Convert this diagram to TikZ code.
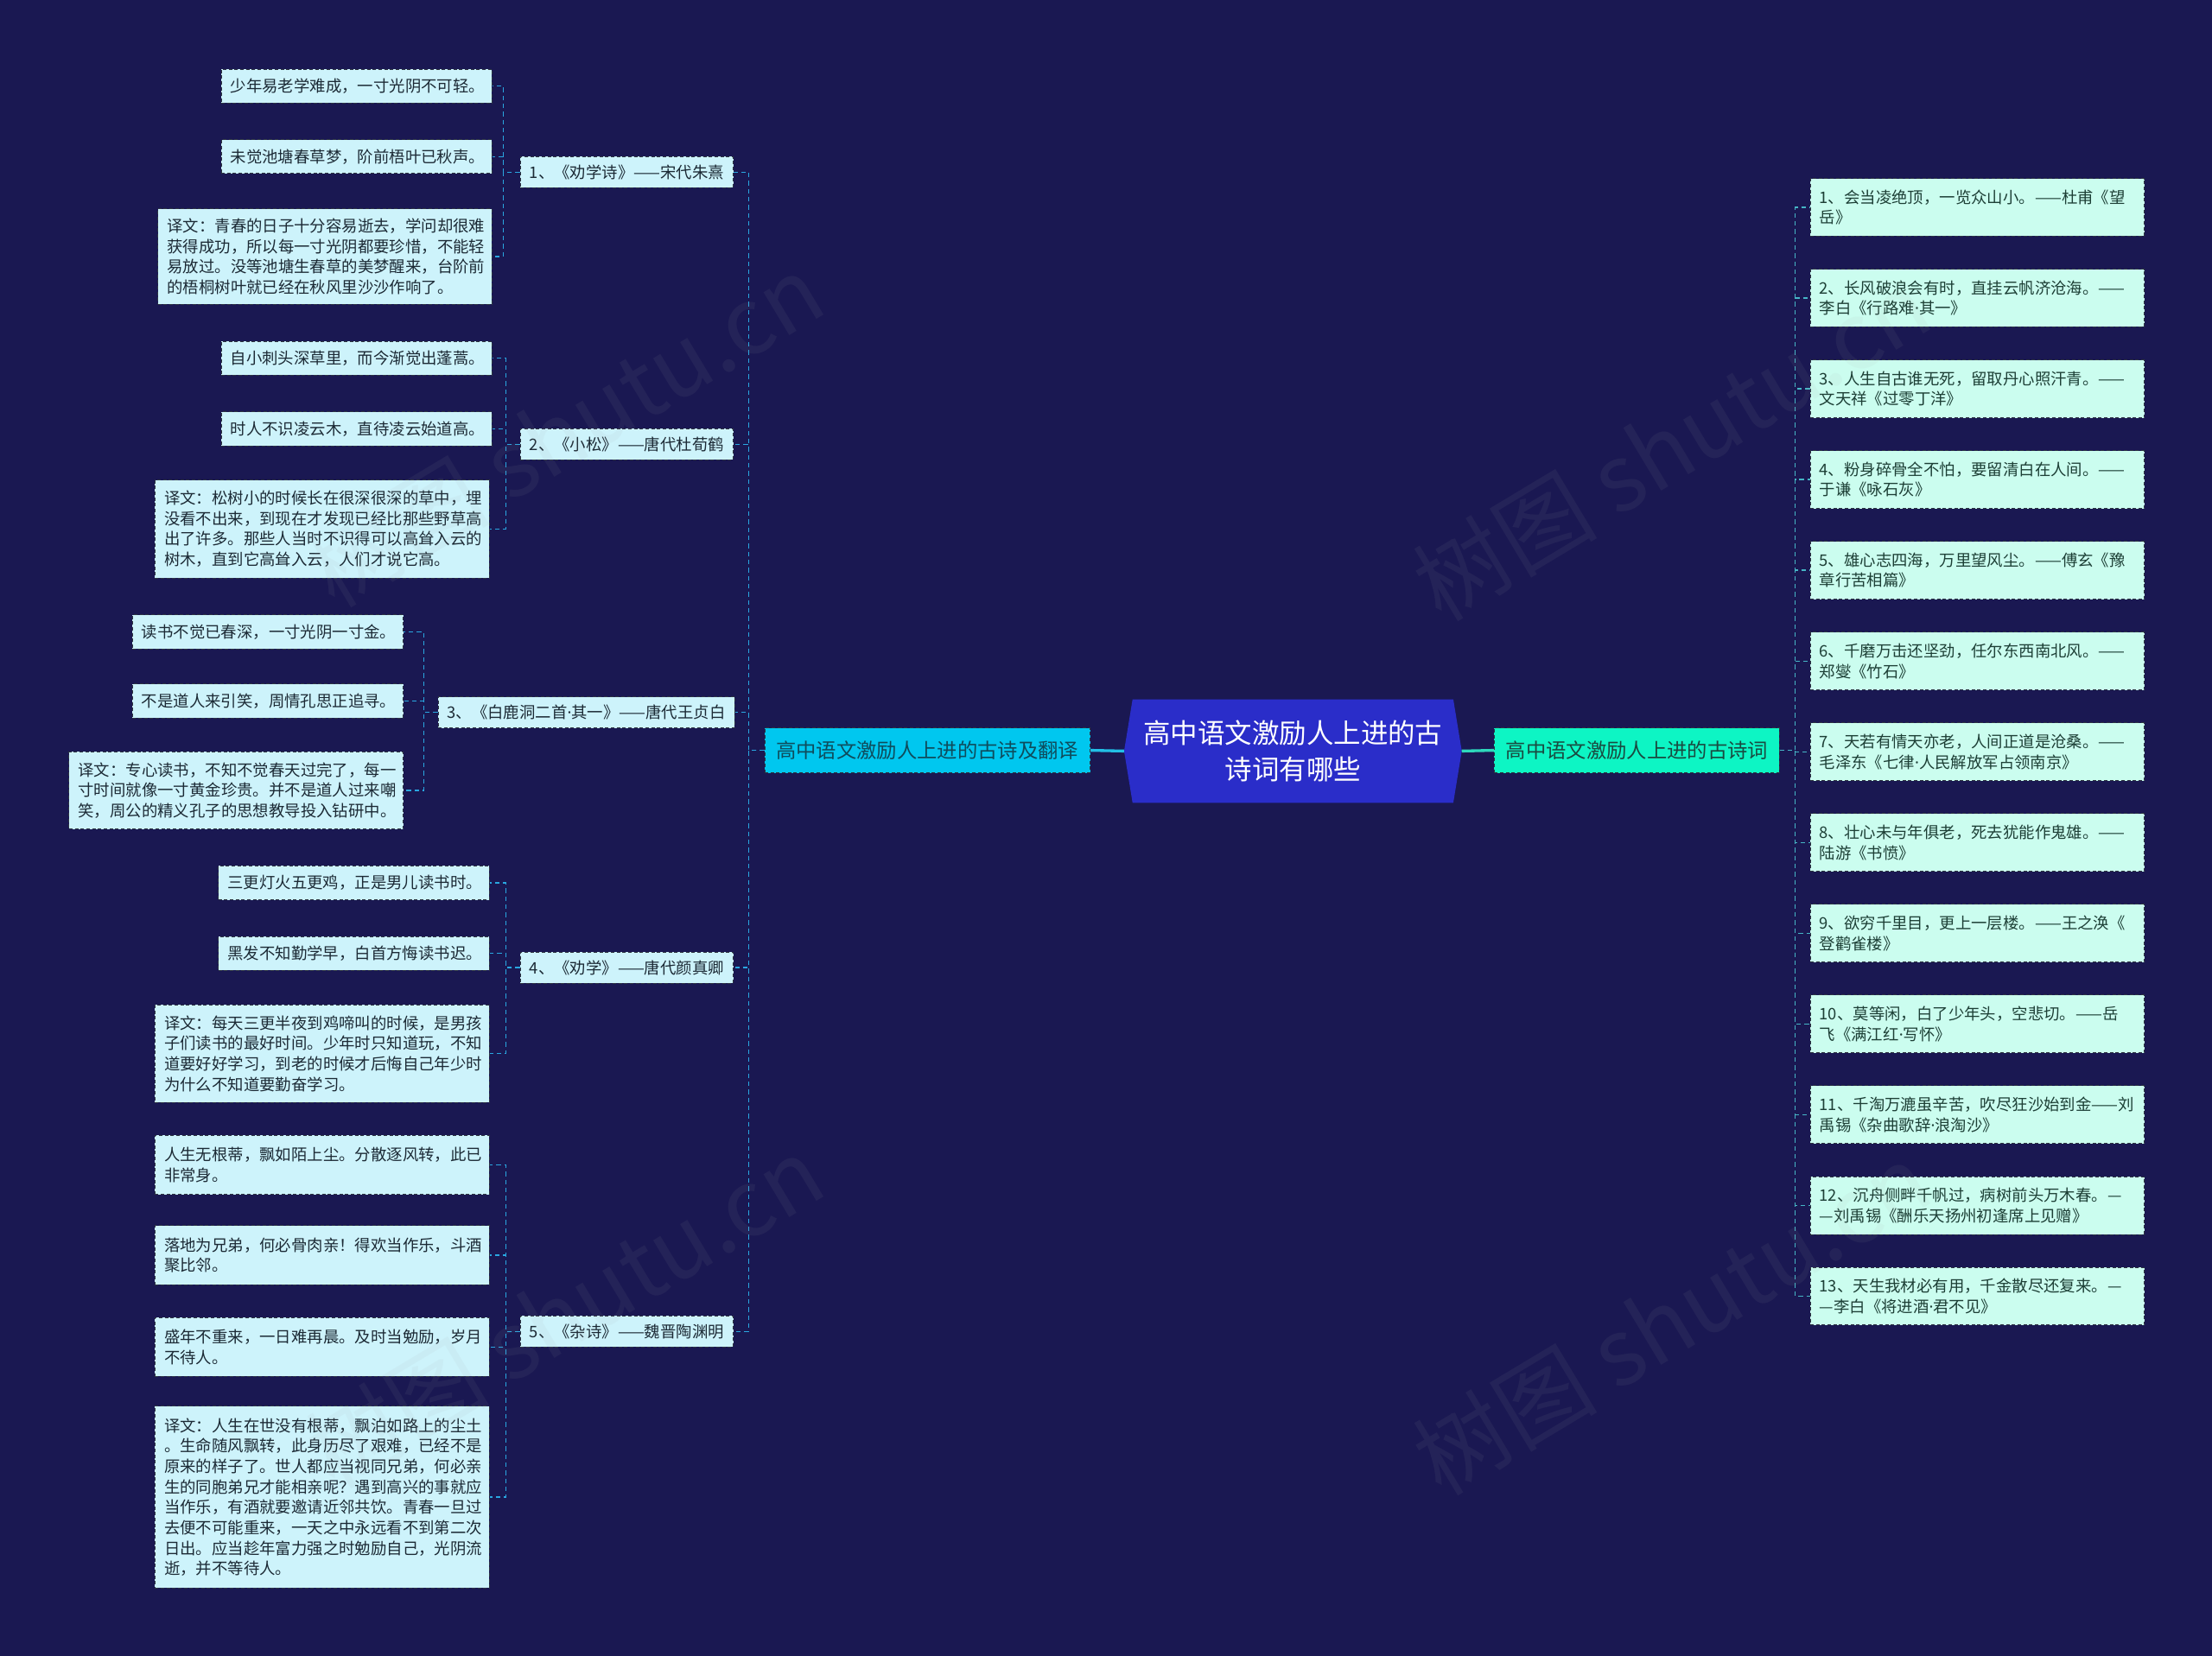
\documentclass[tikz,border=0pt]{standalone}
\usepackage{fontspec}
\newfontfamily\cjk{Noto Sans CJK SC}
\newfontfamily\latinf{Noto Sans}
\newcommand{\md}{{\latinf ·}}
\usetikzlibrary{calc}
\definecolor{bgc}{HTML}{1A1852}
\definecolor{lcyan}{HTML}{CDF3FB}
\definecolor{mleaf}{HTML}{CBFDEF}
\definecolor{lmain}{HTML}{00C7EF}
\definecolor{rmain}{HTML}{0DF5C4}
\definecolor{cfill}{HTML}{2A2DC9}
\definecolor{lline}{HTML}{2AA7E1}
\definecolor{rline}{HTML}{46B6C6}
\definecolor{cll}{HTML}{22BFE6}
\definecolor{crl}{HTML}{2ED8BC}
\definecolor{bordc}{HTML}{2D3540}
\definecolor{ltext}{HTML}{1C2A35}
\definecolor{rtext}{HTML}{1D3F36}
\definecolor{lmtext}{HTML}{0F4C5C}
\definecolor{rmtext}{HTML}{1A4A40}
\pgfdeclarelayer{back}
\pgfsetlayers{back,main}
\begin{document}
\begin{tikzpicture}[x=1.2245pt,y=-1.2245pt,
  bx/.style={draw=bordc, line width=0.6pt, dash pattern=on 3pt off 2pt, inner xsep=8pt, inner ysep=0pt, align=left, font=\cjk\fontsize{13.8}{17.75}\selectfont},
  lleaf/.style={bx, fill=lcyan, text=ltext, anchor=east, minimum height=29.4pt, text width=219pt},
  ltrans/.style={bx, fill=lcyan, text=ltext, anchor=east, text width=274pt},
  poem/.style={bx, fill=lcyan, text=ltext, anchor=east, minimum height=27pt},
  rleaf/.style={bx, fill=mleaf, text=rtext, anchor=west, minimum height=50.2pt, text width=274pt},
  mainbox/.style={draw=bordc, line width=0.6pt, dash pattern=on 3pt off 2pt, inner xsep=10pt, inner ysep=0pt, minimum height=39pt, font=\cjk\fontsize{17.5}{21}\selectfont},
  lconn/.style={draw=lline, line width=1pt, dash pattern=on 4pt off 3pt},
  rconn/.style={draw=rline, line width=1pt, dash pattern=on 4pt off 3pt},
  wm/.style={text=gray!70, opacity=0.08, font=\cjk\fontsize{80}{80}\selectfont, rotate=31}
]
\begin{pgfonlayer}{back}
\fill[bgc] (0,0) rectangle (1568,1174);
\end{pgfonlayer}
\useasboundingbox (0,0) rectangle (1568,1174);

% center
\node[minimum width=278pt, minimum height=89.4pt, inner sep=0pt, align=center, text=white,
  font=\cjk\fontsize{23.6}{31.8}\selectfont] (c) at (916.5,532.5) {高中语文激励人上进的古\\诗词有哪些};
\coordinate (cw) at ($(c.west)+(-6,0)$);
\coordinate (ce) at ($(c.east)+(6,0)$);
\begin{pgfonlayer}{back}
\fill[cfill] (c.north west) -- (c.north east) -- (ce) -- (c.south east) -- (c.south west) -- (cw) -- cycle;
\end{pgfonlayer}

% main branches
\node[mainbox, fill=lmain, text=lmtext, anchor=east] (L) at (773,532) {高中语文激励人上进的古诗及翻译};
\node[mainbox, fill=rmain, text=rmtext, anchor=west] (R) at (1059,532) {高中语文激励人上进的古诗词};
\draw[cll, line width=2.5pt] (cw) -- (L.east);
\draw[crl, line width=2.5pt] (ce) -- (R.west);

% poems (left)
\node[poem] (p1) at (520,122) {1、《劝学诗》——宋代朱熹};
\node[poem] (p2) at (520,315) {2、《小松》——唐代杜荀鹤};
\node[poem] (p3) at (521,505) {3、《白鹿洞二首\md 其一》——唐代王贞白};
\node[poem] (p4) at (520,686) {4、《劝学》——唐代颜真卿};
\node[poem] (p5) at (520,944) {5、《杂诗》——魏晋陶渊明};
\foreach \p in {p1,p2,p3,p4,p5}{\draw[lconn] (L.west) -- ++(-11,0) |- (\p.east);}

% poem 1 leaves
\node[lleaf] (a1) at (349,61) {少年易老学难成，一寸光阴不可轻。};
\node[lleaf] (a2) at (349,111) {未觉池塘春草梦，阶前梧叶已秋声。};
\node[ltrans, minimum height=83pt] (a3) at (349,182) {译文：青春的日子十分容易逝去，学问却很难\\获得成功，所以每一寸光阴都要珍惜，不能轻\\易放过。没等池塘生春草的美梦醒来，台阶前\\的梧桐树叶就已经在秋风里沙沙作响了。};
\foreach \q in {a1,a2,a3}{\draw[lconn] (p1.west) -- ++(-12,0) |- (\q.east);}

% poem 2 leaves
\node[lleaf] (b1) at (349,254) {自小刺头深草里，而今渐觉出蓬蒿。};
\node[lleaf] (b2) at (349,304) {时人不识凌云木，直待凌云始道高。};
\node[ltrans, minimum height=85pt] (b3) at (347,375) {译文：松树小的时候长在很深很深的草中，埋\\没看不出来，到现在才发现已经比那些野草高\\出了许多。那些人当时不识得可以高耸入云的\\树木，直到它高耸入云，人们才说它高。};
\foreach \q in {b1,b2,b3}{\draw[lconn] (p2.west) -- ++(-10,0) |- (\q.east);}

% poem 3 leaves
\node[lleaf] (d1) at (286,448) {读书不觉已春深，一寸光阴一寸金。};
\node[lleaf] (d2) at (286,497) {不是道人来引笑，周情孔思正追寻。};
\node[ltrans, minimum height=67pt] (d3) at (286,560.5) {译文：专心读书，不知不觉春天过完了，每一\\寸时间就像一寸黄金珍贵。并不是道人过来嘲\\笑，周公的精义孔子的思想教导投入钻研中。};
\foreach \q in {d1,d2,d3}{\draw[lconn] (p3.west) -- ++(-10,0) |- (\q.east);}

% poem 4 leaves
\node[lleaf] (e1) at (347,626) {三更灯火五更鸡，正是男儿读书时。};
\node[lleaf] (e2) at (347,676) {黑发不知勤学早，白首方悔读书迟。};
\node[ltrans, minimum height=85pt] (e3) at (347,747) {译文：每天三更半夜到鸡啼叫的时候，是男孩\\子们读书的最好时间。少年时只知道玩，不知\\道要好好学习，到老的时候才后悔自己年少时\\为什么不知道要勤奋学习。};
\foreach \q in {e1,e2,e3}{\draw[lconn] (p4.west) -- ++(-10,0) |- (\q.east);}

% poem 5 leaves
\node[ltrans, minimum height=51.4pt] (f1) at (347,826) {人生无根蒂，飘如陌上尘。分散逐风转，此已\\非常身。};
\node[ltrans, minimum height=51.4pt] (f2) at (347,890) {落地为兄弟，何必骨肉亲！得欢当作乐，斗酒\\聚比邻。};
\node[ltrans, minimum height=51.4pt] (f3) at (347,955) {盛年不重来，一日难再晨。及时当勉励，岁月\\不待人。};
\node[ltrans, minimum height=158pt] (f4) at (347,1061.5) {译文：人生在世没有根蒂，飘泊如路上的尘土\\。生命随风飘转，此身历尽了艰难，已经不是\\原来的样子了。世人都应当视同兄弟，何必亲\\生的同胞弟兄才能相亲呢？遇到高兴的事就应\\当作乐，有酒就要邀请近邻共饮。青春一旦过\\去便不可能重来，一天之中永远看不到第二次\\日出。应当趁年富力强之时勉励自己，光阴流\\逝，并不等待人。};
\foreach \q in {f1,f2,f3,f4}{\draw[lconn] (p5.west) -- ++(-10,0) |- (\q.east);}

% right leaves
\node[rleaf] (r1) at (1283,147) {1、会当凌绝顶，一览众山小。——杜甫《望\\岳》};
\node[rleaf] (r2) at (1283,211.3) {2、长风破浪会有时，直挂云帆济沧海。——\\李白《行路难\md 其一》};
\node[rleaf] (r3) at (1283,275.7) {3、人生自古谁无死，留取丹心照汗青。——\\文天祥《过零丁洋》};
\node[rleaf] (r4) at (1283,340) {4、粉身碎骨全不怕，要留清白在人间。——\\于谦《咏石灰》};
\node[rleaf] (r5) at (1283,404.3) {5、雄心志四海，万里望风尘。——傅玄《豫\\章行苦相篇》};
\node[rleaf] (r6) at (1283,468.7) {6、千磨万击还坚劲，任尔东西南北风。——\\郑燮《竹石》};
\node[rleaf] (r7) at (1283,533) {7、天若有情天亦老，人间正道是沧桑。——\\毛泽东《七律\md 人民解放军占领南京》};
\node[rleaf] (r8) at (1283,597.3) {8、壮心未与年俱老，死去犹能作鬼雄。——\\陆游《书愤》};
\node[rleaf] (r9) at (1283,661.7) {9、欲穷千里目，更上一层楼。——王之涣《\\登鹳雀楼》};
\node[rleaf] (r10) at (1283,726) {10、莫等闲，白了少年头，空悲切。——岳\\飞《满江红\md 写怀》};
\node[rleaf] (r11) at (1283,790.3) {\mbox{11、千淘万漉虽辛苦，吹尽狂沙始到金——刘}\\禹锡《杂曲歌辞\md 浪淘沙》};
\node[rleaf] (r12) at (1283,854.7) {12、沉舟侧畔千帆过，病树前头万木春。—\\—刘禹锡《酬乐天扬州初逢席上见赠》};
\node[rleaf] (r13) at (1283,919) {13、天生我材必有用，千金散尽还复来。—\\—李白《将进酒\md 君不见》};
\foreach \q in {r1,r2,r3,r4,r5,r6,r7,r8,r9,r10,r11,r12,r13}{\draw[rconn] (R.east) -- ++(11,0) |- (\q.west);}

% watermarks
\node[wm] (w1) at (400,305) {树图 shutu.cn};
\node[wm] (w2) at (1185,315) {树图 shutu.cn};
\node[wm] (w3) at (400,930) {树图 shutu.cn};
\node[wm] (w4) at (1185,935) {树图 shutu.cn};
\end{tikzpicture}
\end{document}
